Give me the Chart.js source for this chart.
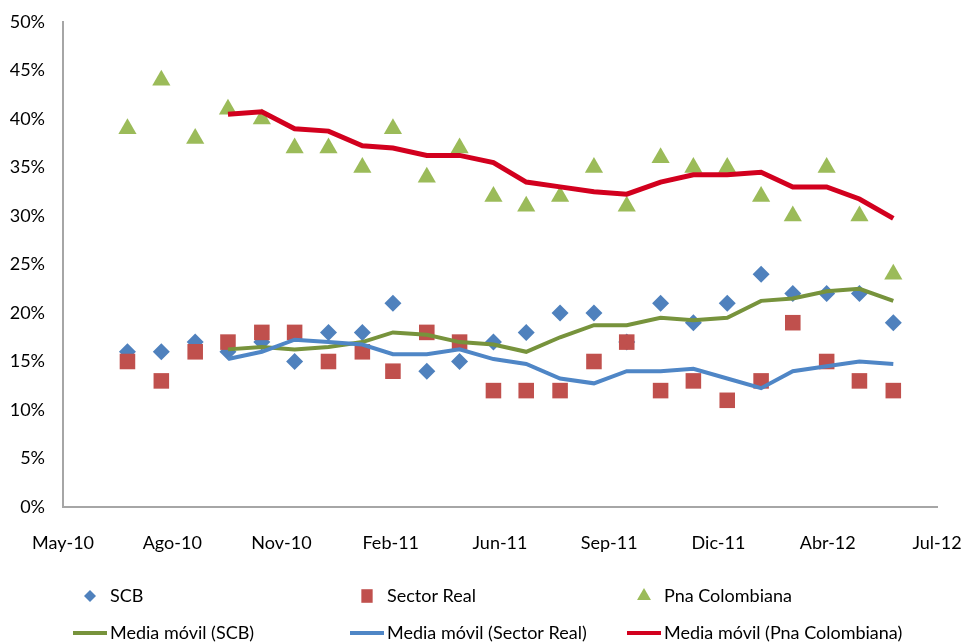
<!DOCTYPE html>
<html>
<head>
<meta charset="utf-8">
<script src="https://cdn.jsdelivr.net/npm/chart.js@4"></script>
<style>
  html, body { margin: 0; padding: 0; background: #fff; }
  #wrap { width: 961px; height: 643px; position: relative; }
</style>
</head>
<body>
<div id="wrap"><canvas id="myChart"></canvas></div>
<script>
// 月（各月末の値）
const months = [
  "2010-06", "2010-07", "2010-08", "2010-09", "2010-10", "2010-11",
  "2010-12", "2011-01", "2011-02", "2011-03", "2011-04", "2011-05",
  "2011-06", "2011-07", "2011-08", "2011-09", "2011-10", "2011-11",
  "2011-12", "2012-01", "2012-02", "2012-03", "2012-04", "2012-05"
];

// 系列 (%)
const scb          = [16, 16, 17, 16, 17, 15, 18, 18, 21, 14, 15, 17, 18, 20, 20, 17, 21, 19, 21, 24, 22, 22, 22, 19];
const sectorReal   = [15, 13, 16, 17, 18, 18, 15, 16, 14, 18, 17, 12, 12, 12, 15, 17, 12, 13, 11, 13, 19, 15, 13, 12];
const pnaColombiana = [39, 44, 38, 41, 40, 37, 37, 35, 39, 34, 37, 32, 31, 32, 35, 31, 36, 35, 35, 32, 30, 35, 30, 24];

// 移動平均
const mmScb = [null, null, null, 16.25, 16.5, 16.25, 16.5, 17, 18, 17.75, 17, 16.75,
               16, 17.5, 18.75, 18.75, 19.5, 19.25, 19.5, 21.25, 21.5, 22.25, 22.5, 21.25];
const mmSectorReal = [null, null, null, 15.25, 16, 17.25, 17, 16.75, 15.75, 15.75, 16.25, 15.25,
                      14.75, 13.25, 12.75, 14, 14, 14.25, 13.25, 12.25, 14, 14.5, 15, 14.75];
const mmPna = [null, null, null, 40.5, 40.75, 39, 38.75, 37.25, 37, 36.25, 36.25, 35.5,
               33.5, 33, 32.5, 32.25, 33.5, 34.25, 34.25, 34.5, 33, 33, 31.75, 29.75];

// 軸ラベル
const xTickLabels = ["May-10", "Ago-10", "Nov-10", "Feb-11", "Jun-11", "Sep-11", "Dic-11", "Abr-12", "Jul-12"];
const axisStart = Date.UTC(2010, 4, 2);   // 日付軸の起点
const tickStepDays = 100;

const FONT = "Lato, 'Open Sans', sans-serif";

// 月 → 軸起点からの日数
function dayOf(ym) {
  const [y, m] = ym.split("-").map(Number);
  return (Date.UTC(y, m, 0) - axisStart) / 86400000;
}
function toPoints(values) {
  return months.map((ym, i) => ({ x: dayOf(ym), y: values[i] }));
}

const data = {
  datasets: [{
    label: "SCB",
    data: toPoints(scb),
    showLine: false,
    pointStyle: "rectRot",
    pointRadius: 8.5,
    backgroundColor: "#4F81BD",
    borderColor: "#4F81BD",
    pointBorderWidth: 0,
    legendRadius: 6,
    order: 6
  }, {
    label: "Sector Real",
    data: toPoints(sectorReal),
    showLine: false,
    pointStyle: "rect",
    pointRadius: 11,
    backgroundColor: "#C0504D",
    borderColor: "#C0504D",
    pointBorderWidth: 0,
    legendRadius: 8,
    order: 5
  }, {
    label: "Pna Colombiana",
    data: toPoints(pnaColombiana),
    showLine: false,
    pointStyle: "triangle",
    pointRadius: 10.5,
    backgroundColor: "#9BBB59",
    borderColor: "#9BBB59",
    pointBorderWidth: 0,
    legendRadius: 8,
    order: 4
  }, {
    label: "Media móvil (SCB)",
    data: toPoints(mmScb),
    showLine: true,
    pointRadius: 0,
    borderColor: "#77933C",
    borderWidth: 4,
    order: 3
  }, {
    label: "Media móvil (Sector Real)",
    data: toPoints(mmSectorReal),
    showLine: true,
    pointRadius: 0,
    borderColor: "#4F86C6",
    borderWidth: 4,
    order: 2
  }, {
    label: "Media móvil (Pna Colombiana)",
    data: toPoints(mmPna),
    showLine: true,
    pointRadius: 0,
    borderColor: "#D2001E",
    borderWidth: 5,
    order: 1
  }]
};

// 凡例（3列×2行）
function legendMarker(ctx, style, x, y, r) {
  ctx.beginPath();
  if (style === "rectRot") {
    ctx.moveTo(x - r, y); ctx.lineTo(x, y - r); ctx.lineTo(x + r, y); ctx.lineTo(x, y + r);
  } else if (style === "rect") {
    const s = r * Math.SQRT1_2;
    ctx.rect(x - s, y - s * 1.2, 2 * s, 2.4 * s);
  } else {
    ctx.moveTo(x, y - r); ctx.lineTo(x + r * 0.87, y + r * 0.5); ctx.lineTo(x - r * 0.87, y + r * 0.5);
  }
  ctx.closePath();
  ctx.fill();
}

const gridLegend = {
  id: "gridLegend",
  afterDraw(chart) {
    const ctx = chart.ctx;
    ctx.save();
    ctx.font = "18px " + FONT;
    ctx.textBaseline = "middle";
    chart.data.datasets.forEach((ds, i) => {
      const x0 = 73 + (i % 3) * 277;
      const y = 596 + Math.floor(i / 3) * 37;
      if (ds.showLine) {
        ctx.strokeStyle = ds.borderColor;
        ctx.lineWidth = 4;
        ctx.beginPath();
        ctx.moveTo(x0, y);
        ctx.lineTo(x0 + 34, y);
        ctx.stroke();
      } else {
        ctx.fillStyle = ds.backgroundColor;
        legendMarker(ctx, ds.pointStyle, x0 + 17, y, ds.legendRadius);
      }
      ctx.fillStyle = "#000";
      ctx.fillText(ds.label, x0 + 37, y);
    });
    ctx.restore();
  }
};

const config = {
  type: "scatter",
  data: data,
  plugins: [gridLegend],
  options: {
    responsive: true,
    maintainAspectRatio: false,
    animation: false,
    events: [],
    layout: { padding: { top: 22, right: 24, bottom: 0, left: 0 } },
    plugins: {
      legend: { display: false },
      tooltip: { enabled: false }
    },
    scales: {
      x: {
        type: "linear",
        min: 0,
        max: tickStepDays * (xTickLabels.length - 1),
        grid: { display: false, drawTicks: false },
        border: { display: true, color: "#A6A6A6", width: 2 },
        ticks: {
          stepSize: tickStepDays,
          autoSkip: false,
          maxRotation: 0,
          padding: 25,
          color: "#000",
          font: { family: FONT, size: 18 },
          callback: (v) => xTickLabels[Math.round(v / tickStepDays)]
        },
        afterFit: (s) => { s.height = 136; s.paddingLeft = 0; s.paddingRight = 0; }
      },
      y: {
        min: 0,
        max: 50,
        grid: { display: false, drawTicks: false },
        border: { display: true, color: "#A6A6A6", width: 2 },
        ticks: {
          stepSize: 5,
          padding: 18,
          color: "#000",
          font: { family: FONT, size: 18 },
          callback: (v) => v + "%"
        },
        afterFit: (s) => { s.width = 63; s.paddingTop = 0; s.paddingBottom = 0; }
      }
    }
  }
};

const ctx = document.getElementById("myChart");
const myChart = new Chart(ctx, config);
</script>
</body>
</html>
